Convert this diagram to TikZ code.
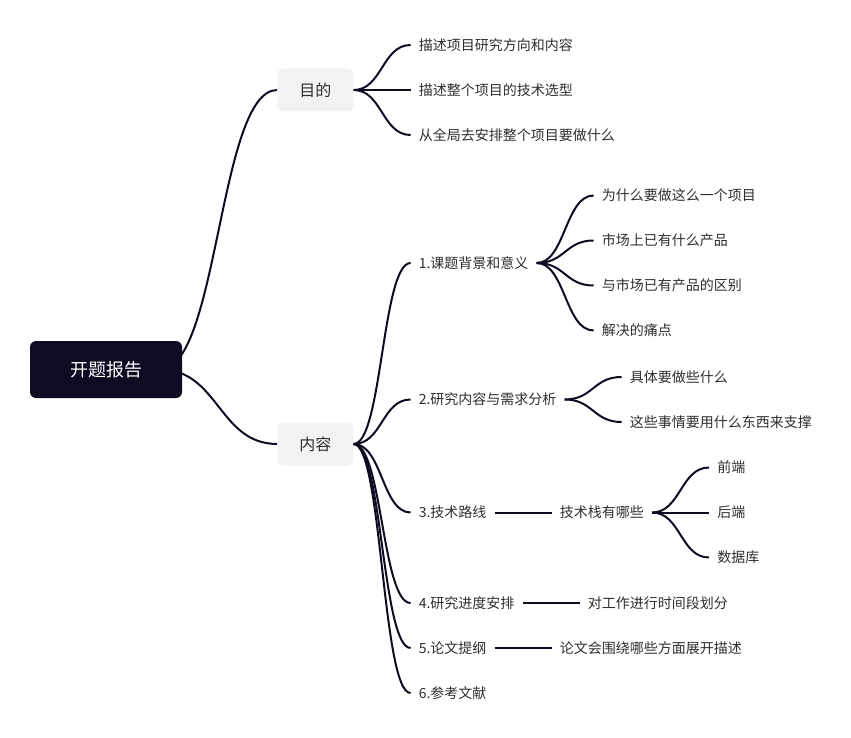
\documentclass[tikz,border=0pt]{standalone}
\usepackage{fontspec}
\newfontfamily\cjk{Noto Sans CJK SC}
\usetikzlibrary{positioning, calc, backgrounds}
\definecolor{ink}{HTML}{0E0C22}
\definecolor{hubfill}{HTML}{F2F2F2}
\definecolor{txt}{HTML}{2E2E2E}

\begin{document}
\begin{tikzpicture}[
      x=1pt, y=-1pt,
      node distance=57pt,
      topic/.style={fill=ink, rounded corners=6pt, minimum width=152pt, minimum height=57pt, text=white, font={\cjk\fontsize{18}{22}\selectfont}},
      hub/.style={fill=hubfill, rounded corners=6pt, minimum width=76pt, minimum height=43pt, text=txt, font={\cjk\fontsize{16}{19}\selectfont}},
      leaf/.style={inner xsep=8pt, inner ysep=2pt, text=txt, font={\cjk\fontsize{14}{17}\selectfont}},
      branch/.style={draw=ink, line width=2pt, to path={let \p1=(\tikztostart), \p2=(\tikztotarget) in .. controls ({(\x1+\x2)/2},\y1) and ({(\x1+\x2)/2},\y2) .. (\tikztotarget)}},
      link/.style={draw=ink, line width=2pt}
    ]

    \useasboundingbox (0,0) rectangle (851,738);

    \node[topic] (report) at (106,369.5) {开题报告};

    \node[hub, right=95pt of report, yshift=279.5pt] (goal) {目的};
    \node[hub, right=95pt of report, yshift=-74.5pt] (content) {内容};

    \node[leaf, right=of goal, yshift=45pt] (goal1) {描述项目研究方向和内容};
    \node[leaf, right=of goal] (goal2) {描述整个项目的技术选型};
    \node[leaf, right=of goal, yshift=-45pt] (goal3) {从全局去安排整个项目要做什么};

    \node[leaf, right=of content, yshift=181pt] (bg) {1.课题背景和意义};
    \node[leaf, right=of content, yshift=44.5pt] (req) {2.研究内容与需求分析};
    \node[leaf, right=of content, yshift=-68.5pt] (tech) {3.技术路线};
    \node[leaf, right=of content, yshift=-159pt] (plan) {4.研究进度安排};
    \node[leaf, right=of content, yshift=-204pt] (outline) {5.论文提纲};
    \node[leaf, right=of content, yshift=-249pt] (refs) {6.参考文献};

    \node[leaf, right=of bg, yshift=67.5pt] (bg1) {为什么要做这么一个项目};
    \node[leaf, right=of bg, yshift=22.5pt] (bg2) {市场上已有什么产品};
    \node[leaf, right=of bg, yshift=-22.5pt] (bg3) {与市场已有产品的区别};
    \node[leaf, right=of bg, yshift=-67.5pt] (bg4) {解决的痛点};

    \node[leaf, right=of req, yshift=22.5pt] (req1) {具体要做些什么};
    \node[leaf, right=of req, yshift=-22.5pt] (req2) {这些事情要用什么东西来支撑};

    \node[leaf, right=of tech] (stack) {技术栈有哪些};
    \node[leaf, right=of stack, yshift=45pt] (front) {前端};
    \node[leaf, right=of stack] (back) {后端};
    \node[leaf, right=of stack, yshift=-45pt] (db) {数据库};

    \node[leaf, right=of plan] (slots) {对工作进行时间段划分};
    \node[leaf, right=of outline] (topics) {论文会围绕哪些方面展开描述};

    \begin{scope}[on background layer]
      \draw[branch] ([xshift=-22pt]report.east) to (goal.west);
      \draw[branch] ([xshift=-22pt]report.east) to (content.west);
    \end{scope}

    \draw[branch] (goal.east) to (goal1.west);
    \draw[branch] (goal.east) to (goal2.west);
    \draw[branch] (goal.east) to (goal3.west);

    \draw[branch] (content.east) to (bg.west);
    \draw[branch] (content.east) to (req.west);
    \draw[branch] (content.east) to (tech.west);
    \draw[branch] (content.east) to (plan.west);
    \draw[branch] (content.east) to (outline.west);
    \draw[branch] (content.east) to (refs.west);

    \draw[branch] (bg.east) to (bg1.west);
    \draw[branch] (bg.east) to (bg2.west);
    \draw[branch] (bg.east) to (bg3.west);
    \draw[branch] (bg.east) to (bg4.west);

    \draw[branch] (req.east) to (req1.west);
    \draw[branch] (req.east) to (req2.west);

    \draw[link] (tech.east) -- (stack.west);
    \draw[branch] (stack.east) to (front.west);
    \draw[branch] (stack.east) to (back.west);
    \draw[branch] (stack.east) to (db.west);

    \draw[link] (plan.east) -- (slots.west);
    \draw[link] (outline.east) -- (topics.west);

  \end{tikzpicture}
\end{document}
